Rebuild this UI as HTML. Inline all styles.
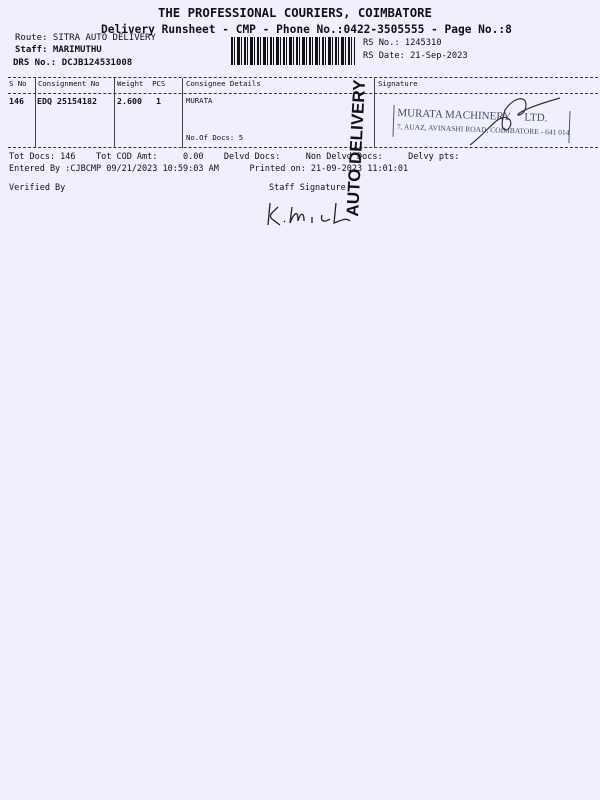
<!DOCTYPE html>
<html><head><meta charset="utf-8"><style>
html,body{margin:0;padding:0}
body{width:600px;height:800px;background:#eff0fc;position:relative;overflow:hidden;font-family:"DejaVu Sans Mono","Liberation Mono",monospace;color:#111118}
.t{position:absolute;white-space:pre;line-height:1}
.b{font-weight:bold}
.h{position:absolute;height:0;border-top:1px dashed #333;left:8px;width:590px}
.v{position:absolute;width:0;border-left:1px solid #444;top:78px;height:70px}
</style></head><body>
<div class="t b" style="left:158px;top:7px;font-size:12.3px">THE PROFESSIONAL COURIERS, COIMBATORE</div>
<div class="t b" style="left:101px;top:24px;font-size:11.2px">Delivery Runsheet - CMP - Phone No.:0422-3505555 - Page No.:8</div>
<div class="t" style="left:15px;top:34px;font-size:9px">Route: SITRA AUTO DELIVERY</div>
<div class="t b" style="left:15px;top:46px;font-size:9px">Staff: MARIMUTHU</div>
<div class="t b" style="left:13px;top:59px;font-size:9px">DRS No.: DCJB124531008</div>
<div style="position:absolute;left:231px;top:37px;width:124px;height:28px;background:repeating-linear-gradient(90deg,#111 0 2px,transparent 2px 3px,#111 3px 4px,transparent 4px 6px,#111 6px 9px,transparent 9px 10px,#111 10px 11px,transparent 11px 13px)"></div>
<div class="t" style="left:363px;top:39px;font-size:8.7px">RS No.: 1245310</div>
<div class="t" style="left:363px;top:52px;font-size:8.7px">RS Date: 21-Sep-2023</div>
<div class="h" style="top:77px"></div>
<div class="h" style="top:93px"></div>
<div class="h" style="top:147px"></div>
<div class="v" style="left:35px"></div>
<div class="v" style="left:114px"></div>
<div class="v" style="left:182px"></div>
<div class="v" style="left:374px"></div>
<div class="t" style="left:9px;top:80px;font-size:7.3px">S No</div>
<div class="t" style="left:38px;top:80px;font-size:7.3px">Consignment No</div>
<div class="t" style="left:117px;top:80px;font-size:7.3px">Weight  PCS</div>
<div class="t" style="left:186px;top:80px;font-size:7.3px">Consignee Details</div>
<div class="t" style="left:378px;top:80px;font-size:7.3px">Signature</div>
<div class="t b" style="left:9px;top:97px;font-size:8.3px">146</div>
<div class="t b" style="left:37px;top:97px;font-size:8.3px">EDQ 25154182</div>
<div class="t b" style="left:117px;top:97px;font-size:8.3px">2.600</div>
<div class="t b" style="left:156px;top:97px;font-size:8.3px">1</div>
<div class="t" style="left:186px;top:97px;font-size:7.3px">MURATA</div>
<div class="t" style="left:186px;top:134px;font-size:7.3px">No.Of Docs: 5</div>
<div style="position:absolute;left:393px;top:108px;width:175px;height:32px;border-left:1px solid #556;border-right:1px solid #556;transform:rotate(2deg)">
<div class="t" style="left:3px;top:3px;font-family:'Liberation Serif',serif;font-size:11px;color:#4a4a66">MURATA MACHINERY &nbsp;&nbsp;&nbsp;&nbsp;LTD.</div>
<div class="t" style="left:3px;top:18px;font-family:'Liberation Serif',serif;font-size:7.5px;color:#4a4a66">7, AUAZ, AVINASHI ROAD, COIMBATORE - 641 014</div>
</div>
<svg style="position:absolute;left:460px;top:90px" width="110" height="60"><path d="M10 55 C30 40 40 20 50 30 C55 40 35 50 45 20 C55 5 70 5 65 20 C60 30 40 25 100 8" fill="none" stroke="#333" stroke-width="1.2"/></svg>
<div class="t" style="left:9px;top:153px;font-size:8.5px">Tot Docs: 146    Tot COD Amt:     0.00    Delvd Docs:     Non Delvd Docs:     Delvy pts:</div>
<div class="t" style="left:9px;top:165px;font-size:8.5px">Entered By :CJBCMP 09/21/2023 10:59:03 AM      Printed on: 21-09-2023 11:01:01</div>
<div class="t" style="left:9px;top:184px;font-size:8.5px">Verified By</div>
<div class="t" style="left:269px;top:184px;font-size:8.5px">Staff Signature</div>
<svg style="position:absolute;left:260px;top:195px" width="100" height="40"><path d="M10 8 L8 30 M18 12 C12 18 8 20 12 24 L20 30 M24 26 l1 1 M32 12 L30 28 C34 18 38 14 38 26 C40 18 44 16 44 26 M52 22 l0 6 M62 20 C60 26 64 28 70 24 M76 8 L74 28 C80 26 86 22 90 26" fill="none" stroke="#222" stroke-width="1.3"/></svg>
<div class="t b" style="font-family:'Liberation Sans',sans-serif;font-size:17px;left:344px;top:216px;transform-origin:0 0;transform:rotate(-87deg)">AUTO DELIVERY</div>
</body></html>
